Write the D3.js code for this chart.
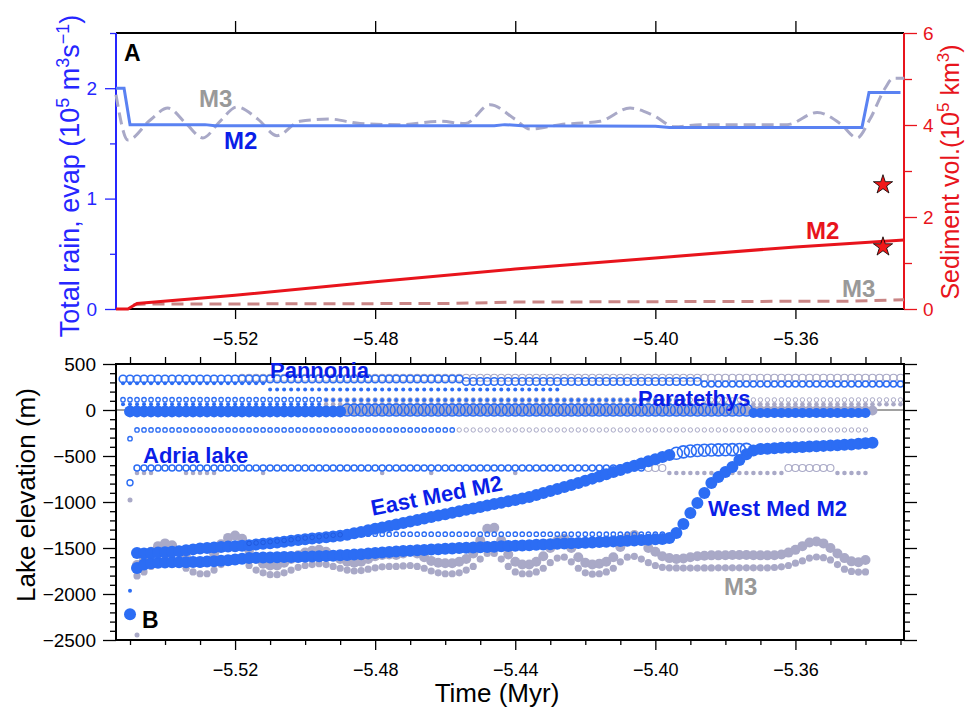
<!DOCTYPE html>
<html>
<head>
<meta charset="utf-8">
<script src="https://cdn.jsdelivr.net/npm/d3@7"></script>
<style>
  body { margin: 0; background: #fff; }
  text { font-family: "Liberation Sans", Arial, Helvetica, sans-serif; }
</style>
</head>
<body>
<div id="viz"></div>
<script>
// ---------- DATA ----------
// Panel A: time (Myr) vs value
// total rain minus evap, 10^5 m3/s (left axis)
const rainM2 = [[-5.554, 2.0], [-5.5517, 2.0], [-5.550, 1.67], [-5.5286, 1.67], [-5.5257, 1.66], [-5.446, 1.66],
  [-5.443, 1.67], [-5.438, 1.66], [-5.400, 1.655], [-5.396, 1.645], [-5.341, 1.645], [-5.339, 1.96], [-5.330, 1.96]];
const rainM3 = [[-5.554, 1.94], [-5.5506, 1.53], [-5.5443, 1.71], [-5.5392, 1.82], [-5.534, 1.68], [-5.5292, 1.55],
  [-5.5243, 1.70], [-5.5195, 1.83], [-5.5135, 1.72], [-5.508, 1.57], [-5.5015, 1.70], [-5.4929, 1.72], [-5.4843, 1.68],
  [-5.4729, 1.67], [-5.4615, 1.70], [-5.4543, 1.68], [-5.4472, 1.85], [-5.4401, 1.72], [-5.4358, 1.63], [-5.4272, 1.67],
  [-5.4158, 1.70], [-5.4072, 1.82], [-5.4009, 1.76], [-5.3944, 1.65], [-5.3872, 1.67], [-5.3624, 1.67], [-5.3538, 1.78],
  [-5.3472, 1.68], [-5.3424, 1.55], [-5.3387, 1.72], [-5.3344, 2.00], [-5.3321, 2.09], [-5.3289, 2.09]];
// sediment volume, 10^5 km3 (right axis)
const sedM2 = [[-5.554, 0], [-5.5506, 0], [-5.548, 0.12], [-5.52, 0.30], [-5.48, 0.59], [-5.44, 0.87],
  [-5.40, 1.11], [-5.36, 1.35], [-5.329, 1.50]];
const sedM3 = [[-5.549, 0.09], [-5.545, 0.11], [-5.52, 0.11], [-5.46, 0.12], [-5.44, 0.15], [-5.40, 0.16],
  [-5.345, 0.17], [-5.329, 0.20]];
const sedStars = [[-5.335, 2.7], [-5.335, 1.35]];

// Panel B: lake elevation (m), model output every 0.002 Myr
const step = 0.002;
const seriesStart = -5.548;
const eastMedM2 = [-1555, -1560, -1555, -1550, -1545, -1540, -1535, -1525, -1515, -1505,
  -1500, -1495, -1490, -1485, -1480, -1475, -1470, -1462, -1455, -1448,
  -1440, -1432, -1422, -1413, -1405, -1398, -1390, -1383, -1375, -1367,
  -1355, -1340, -1325, -1308, -1292, -1276, -1261, -1245, -1228, -1212,
  -1196, -1180, -1163, -1148, -1132, -1117, -1101, -1085, -1070, -1054,
  -1039, -1023, -1008, -992, -977, -961, -946, -925, -903, -881,
  -859, -837, -815, -793, -770, -746, -722, -698, -675, -652,
  -628, -605, -582, -558, -535, -511, -489];
const eastMedOpenStart = -5.394;
const eastMedOpen = [-470, -455, -445, -440, -437, -435, -433, -432, -431, -430, -428];
const westMedM2 = [-1717, -1680, -1665, -1660, -1658, -1656, -1655, -1654, -1653, -1652,
  -1648, -1643, -1638, -1632, -1625, -1617, -1610, -1606, -1604, -1602,
  -1600, -1599, -1598, -1598, -1595, -1592, -1590, -1587, -1584, -1580,
  -1577, -1572, -1567, -1561, -1555, -1549, -1543, -1538, -1533, -1529,
  -1525, -1521, -1517, -1513, -1509, -1505, -1501, -1498, -1495, -1492,
  -1489, -1486, -1482, -1479, -1476, -1472, -1469, -1465, -1461, -1458,
  -1455, -1452, -1449, -1446, -1443, -1439, -1436, -1432, -1428, -1425,
  -1421, -1418, -1414, -1410, -1406, -1402, -1391, -1337, -1239, -1120,
  -1011, -902, -793, -728, -674, -620, -543, -480, -440, -424,
  -420, -415, -411, -408, -405, -402, -398, -394, -390, -386,
  -382, -378, -374, -368, -362, -355];
const eastSmallStart = -5.516;
const eastSmall = [-1450, -1445, -1440, -1432, -1425, -1418, -1410, -1400, -1392, -1385, -1378, -1370, -1362, -1356];
const m3Upper = [-1685, -1620, -1540, -1480, -1450, -1470, -1530, -1600, -1650, -1660,
  -1640, -1560, -1460, -1390, -1365, -1400, -1520, -1620, -1670, -1690,
  -1690, -1660, -1620, -1580, -1550, -1530, -1520, -1540, -1580, -1620,
  -1650, -1660, -1650, -1620, -1590, -1575, -1570, -1575, -1560, -1540,
  -1560, -1600, -1640, -1660, -1665, -1665, -1650, -1620, -1560, -1420,
  -1290, -1280, -1420, -1570, -1650, -1680, -1680, -1650, -1590, -1500,
  -1420, -1400, -1500, -1600, -1660, -1680, -1670, -1650, -1600, -1490,
  -1390, -1360, -1420, -1500, -1540, -1590, -1610, -1620, -1615, -1600,
  -1590, -1585, -1580, -1580, -1578, -1576, -1576, -1576, -1578, -1580,
  -1580, -1578, -1570, -1550, -1520, -1480, -1440, -1430, -1450, -1500,
  -1560, -1610, -1645, -1655, -1630];
const m3Lower = [-1804, -1760, -1700, -1640, -1610, -1620, -1660, -1720, -1760, -1780,
  -1780, -1740, -1680, -1630, -1610, -1630, -1690, -1740, -1770, -1790,
  -1790, -1770, -1740, -1710, -1690, -1680, -1670, -1680, -1700, -1720,
  -1740, -1750, -1745, -1730, -1715, -1705, -1700, -1700, -1695, -1690,
  -1700, -1720, -1750, -1770, -1780, -1780, -1770, -1740, -1700, -1620,
  -1560, -1560, -1620, -1700, -1760, -1780, -1780, -1760, -1720, -1660,
  -1610, -1600, -1650, -1720, -1770, -1785, -1780, -1760, -1720, -1650,
  -1600, -1590, -1620, -1660, -1690, -1710, -1715, -1717, -1718, -1718,
  -1718, -1717, -1717, -1716, -1716, -1716, -1716, -1716, -1716, -1716,
  -1715, -1712, -1705, -1690, -1665, -1640, -1610, -1598, -1605, -1630,
  -1680, -1730, -1755, -1762, -1760];
// first output step (initial lake levels)
const initTime = -5.550;
const initBlueBig = [-2221];
const initBlueSmall = [-1964];
const initBlueOpen = [-790];
const initBlueOpenSmall = [-312];
const initGray = [-978, -2446];

// nearly flat lake levels: [elevation, first time, last time]
const rowsBlueOpenL = [[337, -5.552, -5.456], [310, -5.454, -5.388]];
const rowsBlueOpenM = [[283, -5.386, -5.330], [-630, -5.548, -5.404]];
const rowsBlueOpenS = [[112, -5.552, -5.496], [-217, -5.548, -5.458], [-1350, -5.488, -5.398]];
const rowsBlueDotS = [[62, -5.552, -5.496], [290, -5.552, -5.512], [222, -5.510, -5.428], [110, -5.494, -5.392]];
const rowsBlueDotL = [[-15, -5.550, -5.490]];
const rowsBlueOpenXL = [[0, -5.488, -5.374]];
const rowsBlueDotM = [[-33, -5.372, -5.340]];
const rowsGrayOpenM = [[350, -5.518, -5.330], [-630, -5.402, -5.398], [-630, -5.362, -5.350]];
const rowsGrayOpenS = [[110, -5.494, -5.330], [-217, -5.456, -5.340]];
const rowsGrayDotS = [[62, -5.494, -5.330], [-685, -5.548, -5.544], [-685, -5.534, -5.526], [-685, -5.512, -5.512],
  [-685, -5.478, -5.478], [-685, -5.464, -5.464], [-685, -5.440, -5.440], [-685, -5.396, -5.364], [-685, -5.348, -5.340]];
const rowsGrayDotL = [[-5, -5.490, -5.338]];

const timeTicks = [-5.52, -5.48, -5.44, -5.40, -5.36];

// ---------- STYLE ----------
const dotBlue = "#2c6df4";
const dotGray = "#a9a9c7";
const labelBlue = "#0a1ee8";
const axisBlue = "#2626ff";
const red = "#e8141c";

const svg = d3.select("#viz").append("svg")
  .attr("width", 968).attr("height", 707);

const x = d3.scaleLinear().domain([-5.554, -5.329]).range([116, 904]);
const yRain = d3.scaleLinear().domain([0, 2.5]).range([309, 33]);
const ySed = d3.scaleLinear().domain([0, 6]).range([309, 33]);
const yLake = d3.scaleLinear().domain([-2500, 500]).range([640, 364]);

function styleAxis(g, color, size) {
  g.select(".domain").remove();
  g.selectAll("line").attr("stroke", color).attr("stroke-width", 1.3);
  g.selectAll("text").attr("fill", color).style("font-size", size + "px");
}

// ---------- PANEL A ----------
const gA = svg.append("g");

// time axis, top and bottom (majors only)
gA.append("g").attr("transform", "translate(0,309)")
  .call(d3.axisBottom(x).tickValues(timeTicks).tickSize(10).tickPadding(13).tickFormat(d3.format(".2f")))
  .call(g => styleAxis(g, "#000", 18));
gA.append("g").attr("transform", "translate(0,33)")
  .call(d3.axisTop(x).tickValues(timeTicks).tickSize(12).tickFormat(""))
  .call(g => styleAxis(g, "#000", 18));

// left axis (rain)
gA.append("g").attr("transform", "translate(116,0)")
  .call(d3.axisLeft(yRain).tickValues([0, 1, 2]).tickSize(11).tickPadding(8).tickFormat(d3.format("d")))
  .call(g => styleAxis(g, axisBlue, 19));
gA.append("g").attr("transform", "translate(116,0)")
  .call(d3.axisLeft(yRain).tickValues([0.5, 1.5, 2.5]).tickSize(6).tickFormat(""))
  .call(g => styleAxis(g, axisBlue, 19));
// right axis (sediment)
gA.append("g").attr("transform", "translate(904,0)")
  .call(d3.axisRight(ySed).tickValues([0, 2, 4, 6]).tickSize(13).tickPadding(6).tickFormat(d3.format("d")))
  .call(g => styleAxis(g, red, 19));
gA.append("g").attr("transform", "translate(904,0)")
  .call(d3.axisRight(ySed).tickValues([1, 3, 5]).tickSize(8).tickFormat(""))
  .call(g => styleAxis(g, red, 19));

// frame
gA.append("line").attr("x1", 116).attr("x2", 904).attr("y1", 33).attr("y2", 33).attr("stroke", "#000").attr("stroke-width", 2);
gA.append("line").attr("x1", 116).attr("x2", 904).attr("y1", 309).attr("y2", 309).attr("stroke", "#000").attr("stroke-width", 2);
gA.append("line").attr("x1", 116).attr("x2", 116).attr("y1", 33).attr("y2", 309).attr("stroke", axisBlue).attr("stroke-width", 2);
gA.append("line").attr("x1", 904).attr("x2", 904).attr("y1", 33).attr("y2", 309).attr("stroke", red).attr("stroke-width", 2);

const lineRain = d3.line().x(d => x(d[0])).y(d => yRain(d[1]));
const lineSed = d3.line().x(d => x(d[0])).y(d => ySed(d[1]));

gA.append("path").datum(rainM3)
  .attr("d", lineRain.curve(d3.curveMonotoneX))
  .attr("fill", "none").attr("stroke", dotGray).attr("stroke-width", 3).attr("stroke-dasharray", "12,6");
gA.append("path").datum(rainM2)
  .attr("d", d3.line().x(d => x(d[0])).y(d => yRain(d[1])))
  .attr("fill", "none").attr("stroke", "#5a82f2").attr("stroke-width", 3);
gA.append("path").datum(sedM3)
  .attr("d", lineSed)
  .attr("fill", "none").attr("stroke", "#c98585").attr("stroke-width", 3).attr("stroke-dasharray", "12,7");
gA.append("path").datum(sedM2)
  .attr("d", lineSed)
  .attr("fill", "none").attr("stroke", red).attr("stroke-width", 3);

gA.selectAll("path.star").data(sedStars).join("path")
  .attr("class", "star")
  .attr("d", d3.symbol(d3.symbolStar).size(115))
  .attr("transform", d => `translate(${x(d[0])},${ySed(d[1])})`)
  .attr("fill", "#f01818").attr("stroke", "#000").attr("stroke-width", 0.8);

// panel A labels
gA.append("text").attr("x", 124).attr("y", 61).style("font-size", "23px").style("font-weight", "bold").text("A");
gA.append("text").attr("x", 199).attr("y", 107).style("font-size", "24px").style("font-weight", "bold").attr("fill", "#999").text("M3");
gA.append("text").attr("x", 224).attr("y", 149).style("font-size", "24px").style("font-weight", "bold").attr("fill", labelBlue).text("M2");
gA.append("text").attr("x", 806).attr("y", 239).style("font-size", "24px").style("font-weight", "bold").attr("fill", red).text("M2");
gA.append("text").attr("x", 842).attr("y", 297).style("font-size", "24px").style("font-weight", "bold").attr("fill", "#999").text("M3");

// axis titles A
const tRain = gA.append("text").attr("transform", "translate(79,176) rotate(-90)")
  .attr("text-anchor", "middle").style("font-size", "27px").attr("fill", axisBlue);
tRain.append("tspan").text("Total rain, evap (10");
tRain.append("tspan").attr("dy", -10).style("font-size", "18px").text("5");
tRain.append("tspan").attr("dy", 10).text(" m");
tRain.append("tspan").attr("dy", -10).style("font-size", "18px").text("3");
tRain.append("tspan").attr("dy", 10).text("s");
tRain.append("tspan").attr("dy", -10).style("font-size", "18px").text("\u22121");
tRain.append("tspan").attr("dy", 10).text(")");

const tSed = gA.append("text").attr("transform", "translate(959,172) rotate(-90)")
  .attr("text-anchor", "middle").style("font-size", "25px").attr("fill", red);
tSed.append("tspan").text("Sediment vol.(10");
tSed.append("tspan").attr("dy", -10).style("font-size", "17px").text("5");
tSed.append("tspan").attr("dy", 10).text(" km");
tSed.append("tspan").attr("dy", -10).style("font-size", "17px").text("3");
tSed.append("tspan").attr("dy", 10).text(")");

// ---------- PANEL B ----------
const gB = svg.append("g");

const minorTimes = d3.range(-5.55, -5.329, 0.01).filter(t => !timeTicks.some(m => Math.abs(m - t) < 1e-6));
gB.append("g").attr("transform", "translate(0,640)")
  .call(d3.axisBottom(x).tickValues(timeTicks).tickSize(10).tickPadding(13).tickFormat(d3.format(".2f")))
  .call(g => styleAxis(g, "#000", 18));
gB.append("g").attr("transform", "translate(0,640)")
  .call(d3.axisBottom(x).tickValues(minorTimes).tickSize(5).tickFormat(""))
  .call(g => styleAxis(g, "#000", 18));
gB.append("g").attr("transform", "translate(0,364)")
  .call(d3.axisTop(x).tickValues(timeTicks).tickSize(12).tickFormat(""))
  .call(g => styleAxis(g, "#000", 18));
gB.append("g").attr("transform", "translate(0,364)")
  .call(d3.axisTop(x).tickValues(minorTimes).tickSize(7).tickFormat(""))
  .call(g => styleAxis(g, "#000", 18));

const lakeMajor = d3.range(-2500, 501, 500);
const lakeMinor = d3.range(-2400, 500, 100).filter(v => v % 500 !== 0);
gB.append("g").attr("transform", "translate(116,0)")
  .call(d3.axisLeft(yLake).tickValues(lakeMajor).tickSize(13).tickPadding(7).tickFormat(d3.format("d")))
  .call(g => styleAxis(g, "#000", 19));
gB.append("g").attr("transform", "translate(116,0)")
  .call(d3.axisLeft(yLake).tickValues(lakeMinor).tickSize(6).tickFormat(""))
  .call(g => styleAxis(g, "#000", 19));
gB.append("g").attr("transform", "translate(904,0)")
  .call(d3.axisRight(yLake).tickValues(lakeMajor).tickSize(13).tickFormat(""))
  .call(g => styleAxis(g, "#000", 19));
gB.append("g").attr("transform", "translate(904,0)")
  .call(d3.axisRight(yLake).tickValues(lakeMinor).tickSize(6).tickFormat(""))
  .call(g => styleAxis(g, "#000", 19));

// sea-level line
gB.append("line").attr("x1", 116).attr("x2", 904).attr("y1", yLake(0)).attr("y2", yLake(0))
  .attr("stroke", "#444").attr("stroke-width", 1);

// dots: a flat row of lake levels
function rowDots(rows, r, fill, stroke, sw) {
  rows.forEach(([lev, t0, t1]) => {
    const n = Math.round((t1 - t0) / step) + 1;
    gB.append("g").selectAll("circle").data(d3.range(n).map(k => t0 + k * step)).join("circle")
      .attr("cx", d => x(d)).attr("cy", yLake(lev)).attr("r", r)
      .attr("fill", fill).attr("stroke", stroke).attr("stroke-width", sw);
  });
}
// dots: one value per output step
function seriesDots(t0, levels, r, fill, stroke, sw) {
  gB.append("g").selectAll("circle").data(levels).join("circle")
    .attr("cx", (d, k) => x(t0 + k * step)).attr("cy", d => yLake(d)).attr("r", r)
    .attr("fill", fill).attr("stroke", stroke).attr("stroke-width", sw);
}

// M3 (gray) underneath
rowDots(rowsGrayOpenM, 3.5, "none", dotGray, 1.1);
rowDots(rowsGrayOpenS, 2.2, "none", dotGray, 1);
rowDots(rowsGrayDotS, 2.3, dotGray, "none", 0);
rowDots(rowsGrayDotL, 5, dotGray, "none", 0);
seriesDots(seriesStart, m3Lower, 3.6, dotGray, "none", 0);
seriesDots(seriesStart, m3Upper, 5, dotGray, "none", 0);
seriesDots(initTime, initGray, 2.5, dotGray, "none", 0);

// M2 (blue)
rowDots(rowsBlueOpenL, 3.8, "none", dotBlue, 1.6);
rowDots(rowsBlueOpenM, 3, "none", dotBlue, 1.5);
rowDots(rowsBlueOpenS, 2.2, "none", dotBlue, 1.3);
rowDots(rowsBlueDotS, 2, dotBlue, "none", 0);
rowDots(rowsBlueDotL, 6, dotBlue, "none", 0);
rowDots(rowsBlueOpenXL, 6, "none", dotBlue, 1.6);
rowDots(rowsBlueDotM, 5, dotBlue, "none", 0);
seriesDots(seriesStart, westMedM2, 6, dotBlue, "none", 0);
seriesDots(seriesStart, eastMedM2, 6, dotBlue, "none", 0);
seriesDots(eastMedOpenStart, eastMedOpen, 6, "none", dotBlue, 1.6);
seriesDots(eastSmallStart, eastSmall, 2.3, dotBlue, "#1b4fd0", 0.6);
[initBlueBig, initBlueSmall, initBlueOpen, initBlueOpenSmall].forEach((arr, i) => {
  seriesDots(initTime, arr, [6, 2, 3, 2.2][i], i < 2 ? dotBlue : "none", i < 2 ? "none" : dotBlue, 1.4);
});

// frame B
gB.append("rect").attr("x", 116).attr("y", 364).attr("width", 788).attr("height", 276)
  .attr("fill", "none").attr("stroke", "#000").attr("stroke-width", 2);

// labels B
const bold = (t, x0, y0, size, color) => gB.append("text").attr("x", x0).attr("y", y0)
  .style("font-size", size + "px").style("font-weight", "bold").attr("fill", color).text(t);
bold("Pannonia", 270, 378, 22, labelBlue);
bold("Paratethys", 638, 406, 22, labelBlue);
bold("Adria lake", 143, 463, 22, labelBlue);
bold("West Med M2", 708, 516, 22, labelBlue);
bold("M3", 724, 595, 24, "#999");
bold("B", 142, 628, 23, "#000");
gB.append("text").attr("transform", "translate(438,503) rotate(-11)").attr("text-anchor", "middle")
  .style("font-size", "22px").style("font-weight", "bold").attr("fill", labelBlue).text("East Med M2");

gB.append("text").attr("transform", "translate(35,495) rotate(-90)").attr("text-anchor", "middle")
  .style("font-size", "26px").text("Lake elevation (m)");
gB.append("text").attr("x", 497).attr("y", 702).attr("text-anchor", "middle")
  .style("font-size", "26px").text("Time (Myr)");
</script>
</body>
</html>
